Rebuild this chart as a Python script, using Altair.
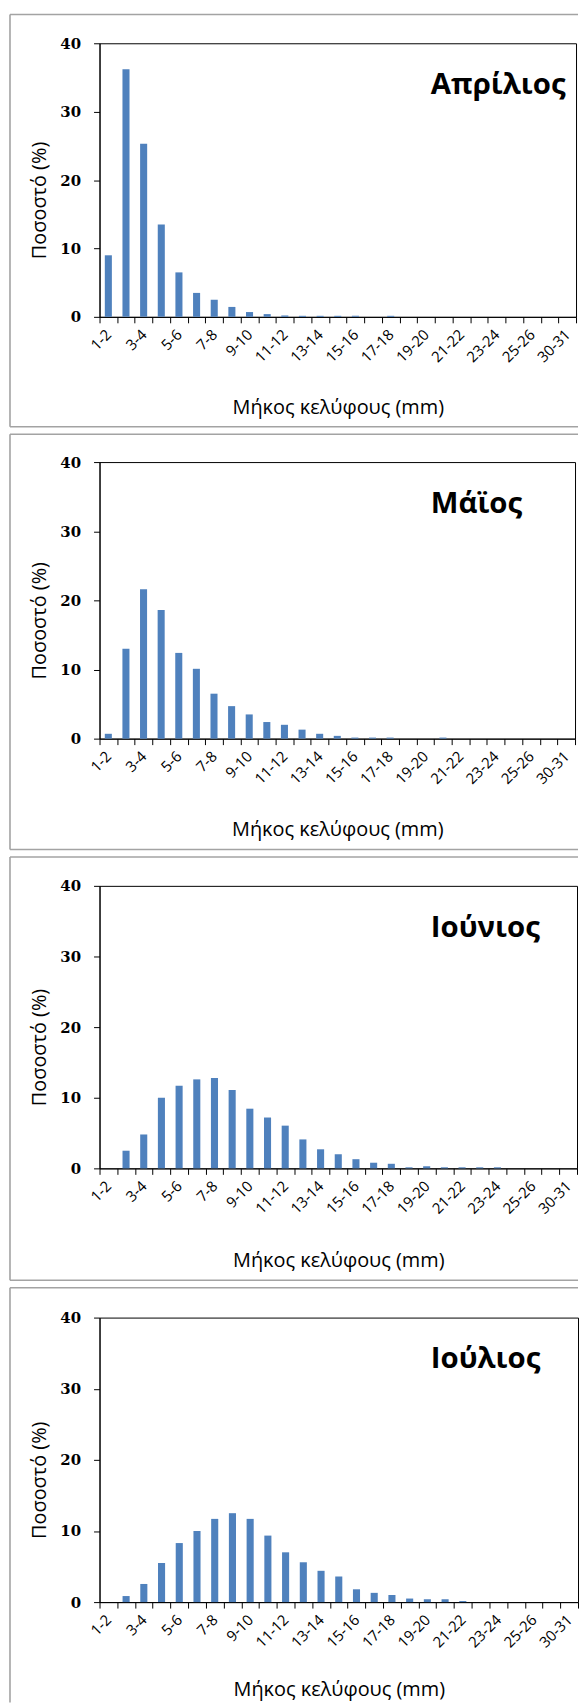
import altair as alt
import pandas as pd

# ---- data ----
categories = ["1-2", "2-3", "3-4", "4-5", "5-6", "6-7", "7-8", "8-9", "9-10", "10-11",
              "11-12", "12-13", "13-14", "14-15", "15-16", "16-17", "17-18", "18-19",
              "19-20", "20-21", "21-22", "22-23", "23-24", "24-25", "25-26", "27-28", "30-31"]
shown_labels = ["1-2", "3-4", "5-6", "7-8", "9-10", "11-12", "13-14", "15-16", "17-18",
                "19-20", "21-22", "23-24", "25-26", "30-31"]
months = ["Απρίλιος", "Μάϊος", "Ιούνιος", "Ιούλιος"]

april = [9.0, 36.2, 25.3, 13.5, 6.5, 3.5, 2.5, 1.45, 0.7, 0.4, 0.2, 0.15, 0.15, 0.15, 0.15,
         0.0, 0.15, 0, 0, 0, 0, 0, 0, 0, 0, 0, 0]
may = [0.7, 13.0, 21.6, 18.6, 12.4, 10.1, 6.5, 4.7, 3.5, 2.4, 2.0, 1.3, 0.7, 0.4, 0.15,
       0.15, 0.15, 0, 0, 0.15, 0, 0, 0, 0, 0, 0, 0]
june = [0, 2.5, 4.8, 10.0, 11.7, 12.6, 12.8, 11.1, 8.45, 7.2, 6.05, 4.1, 2.7, 2.0, 1.3,
        0.8, 0.65, 0.15, 0.3, 0.15, 0.15, 0.15, 0.15, 0, 0, 0, 0]
july = [0, 0.85, 2.55, 5.5, 8.3, 10.0, 11.7, 12.5, 11.7, 9.35, 7.0, 5.6, 4.4, 3.6, 1.8,
        1.3, 1.0, 0.5, 0.4, 0.4, 0.15, 0, 0, 0, 0, 0, 0]
series = [april, may, june, july]
y_ticks = [0, 10, 20, 30, 40]

x_title = "Μήκος κελύφους (mm)"
y_title = "Ποσοστό (%)"

# ---- layout (pixels) ----
plot_w = [479, 478, 480, 481]
plot_h = [275, 278, 284, 286]
frame_top = [29, 28, 29, 30]
frame_h = [414.5, 417.4, 425.4, 417]
x_title_y = [91, 91, 93, 88]
frame_left = 90
frame_right = 481          # relative to plot left; keeps the svg within the 572px body

BAR = "#4F81BD"
SANS = "Open Sans"
FRAME = "#a3a3a3"

label_list = ",".join("'%s'" % s for s in shown_labels)
label_expr = "indexof([%s], datum.value) >= 0 ? datum.label : ''" % label_list


def frame_layer(i, one):
    top = -frame_top[i]
    bot = frame_h[i] - frame_top[i]
    rule = dict(stroke=FRAME, strokeWidth=1.6)
    base = alt.Chart(one)
    parts = [
        base.mark_rule(**rule).encode(x=alt.value(-frame_left), y=alt.value(top), y2=alt.value(bot)),
        base.mark_rule(**rule).encode(x=alt.value(-frame_left), x2=alt.value(frame_right),
                                      y=alt.value(top)),
    ]
    if i < 3:
        parts.append(base.mark_rule(**rule).encode(x=alt.value(-frame_left),
                                                   x2=alt.value(frame_right), y=alt.value(bot)))
    return alt.layer(*parts)


def panel(i):
    w, h = plot_w[i], plot_h[i]
    df = pd.DataFrame({"cat": categories, "val": series[i]})
    one = pd.DataFrame({"label": [months[i]]})

    bars = alt.Chart(df).mark_bar(color=BAR, width=alt.RelativeBandSize(0.4)).encode(
        x=alt.X("cat:N", sort=categories,
                scale=alt.Scale(domain=categories, paddingInner=0, paddingOuter=0),
                axis=alt.Axis(title=x_title, labelAngle=-45, labelExpr=label_expr,
                              labelAlign="right", labelBaseline="middle",
                              tickBand="extent", tickSize=6, tickColor="black",
                              domainColor="black", labelFont=SANS, labelFontSize=15,
                              labelColor="black", labelPadding=9, labelOverlap=False,
                              titleFont=SANS, titleFontSize=20, titleFontWeight="normal",
                              titleColor="black", titleY=x_title_y[i],
                              titleBaseline="middle")),
        y=alt.Y("val:Q", scale=alt.Scale(domain=[0, 40]),
                axis=alt.Axis(values=y_ticks, title=y_title, grid=False, tickSize=6,
                              tickColor="black", domainColor="black",
                              labelFont="DejaVu Serif", labelFontWeight="bold",
                              labelFontSize=15, labelColor="black", labelPadding=13,
                              titleFont=SANS, titleFontSize=20, titleFontWeight="normal",
                              titleColor="black", titleX=-60, titleY=h / 2 + 20,
                              titleBaseline="middle")),
    )

    label = alt.Chart(one).mark_text(align="left", baseline="alphabetic", font=SANS,
                                     fontWeight="bold", fontSize=29.5, color="black").encode(
        x=alt.value(333), y=alt.value(51), text=alt.Text("label:N"),
    )

    return alt.layer(frame_layer(i, one), bars, label).properties(width=w, height=h)


chart = alt.vconcat(*[panel(i) for i in range(4)], spacing=4).properties(
    padding={"left": 0, "top": 0, "right": 0, "bottom": 0},
    background="white",
).configure_view(stroke="black", strokeWidth=1)

chart.save("out.html", embed_options={"renderer": "svg", "actions": False})
